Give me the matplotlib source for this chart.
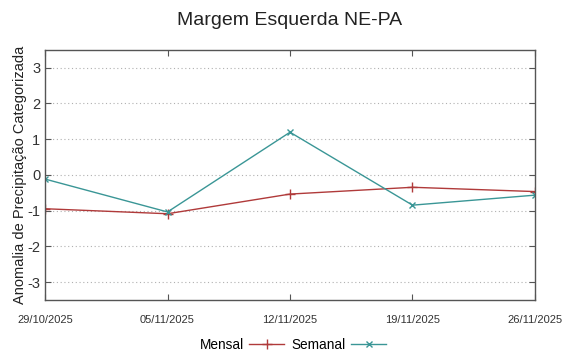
import matplotlib
matplotlib.use("Agg")
import matplotlib.pyplot as plt
from datetime import datetime

plt.rcParams['font.family'] = ['Liberation Sans', 'DejaVu Sans']

dates = ["29/10/2025", "05/11/2025", "12/11/2025", "19/11/2025", "26/11/2025"]
mensal = [-0.95, -1.09, -0.54, -0.35, -0.47]
semanal = [-0.12, -1.04, 1.19, -0.85, -0.57]
yticks = [-3, -2, -1, 0, 1, 2, 3]

x = [datetime.strptime(d, "%d/%m/%Y") for d in dates]

fig = plt.figure(figsize=(5.8, 3.52), dpi=100)
ax = fig.add_axes([0.0776, 0.148, 0.8448, 0.711])

ax.plot(x, mensal, color="#b03a3a", marker="+", markersize=7, linewidth=1.0,
        label="Mensal")
ax.plot(x, semanal, color="#3a9696", marker="x", markersize=5, linewidth=1.0,
        label="Semanal")

ax.set_xlim(x[0], x[-1])
ax.set_ylim(-3.5, 3.5)
ax.set_yticks(yticks)
ax.set_yticklabels([str(v) for v in yticks], fontsize=10.5, color="#333333")
ax.set_xticks(x)
ax.set_xticklabels(dates, fontsize=8, color="#333333")
ax.tick_params(axis="x", pad=11)
ax.tick_params(direction="in", top=True, right=True, length=4, width=0.8,
               color="#555555")
ax.yaxis.grid(True, linestyle=(0, (1.0, 2.4)), color="#b0b0b0", linewidth=0.8)

for side in ["left", "bottom", "right", "top"]:
    ax.spines[side].set_color("#555555")
    ax.spines[side].set_linewidth(1.0)

ax.set_ylabel("Anomalia de Precipitação Categorizada", fontsize=10.5,
              color="#222222", labelpad=0)
fig.suptitle("Margem Esquerda NE-PA", fontsize=14, y=0.965, color="#222222")

fig.legend(loc="lower center", bbox_to_anchor=(0.505, -0.035), ncol=2,
           frameon=False, markerfirst=False, fontsize=9.8,
           handlelength=2.6, columnspacing=0.5, handletextpad=0.4)

fig.savefig("out.png", dpi=100)
